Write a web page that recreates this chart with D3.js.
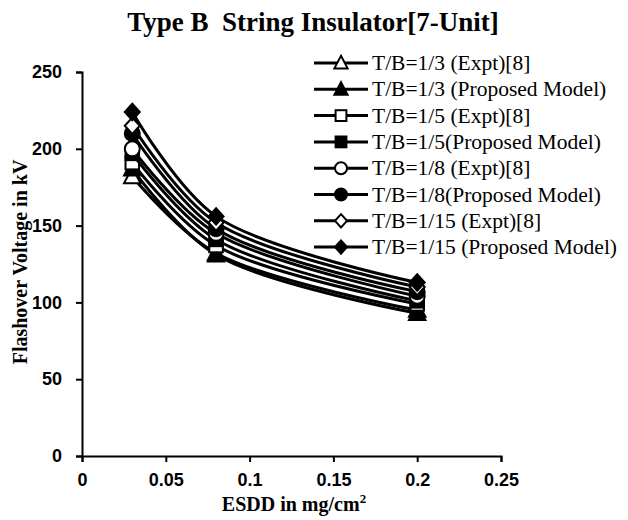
<!DOCTYPE html>
<html><head><meta charset="utf-8">
<script src="https://cdn.jsdelivr.net/npm/d3@7"></script>
<style>body{margin:0;background:#fff}</style>
</head><body>
<svg id="c" width="628" height="520"></svg>
<script>
const xValues = [0.03, 0.08, 0.2];
const seriesNames = [
  "T/B=1/3 (Expt)[8]",
  "T/B=1/3 (Proposed Model)",
  "T/B=1/5 (Expt)[8]",
  "T/B=1/5(Proposed Model)",
  "T/B=1/8 (Expt)[8]",
  "T/B=1/8(Proposed Model)",
  "T/B=1/15 (Expt)[8]",
  "T/B=1/15 (Proposed Model)"
];
const markerShapes = ["triangle","triangle","square","square","circle","circle","diamond","diamond"];
const markerFilled = [false,true,false,true,false,true,false,true];
const tb3Expt = [182, 132, 95];
const tb3Model = [187, 131, 93];
const tb5Expt = [191, 137, 99];
const tb5Model = [197, 141, 101];
const tb8Expt = [200, 145, 104];
const tb8Model = [210, 148, 107];
const tb15Expt = [215, 152, 110];
const tb15Model = [224, 156, 113];
const seriesValues = [tb3Expt, tb3Model, tb5Expt, tb5Model, tb8Expt, tb8Model, tb15Expt, tb15Model];
const xTicks = [0, 0.05, 0.1, 0.15, 0.2, 0.25];
const yTicks = [0, 50, 100, 150, 200, 250];

const svg = d3.select("#c");
const x = d3.scaleLinear().domain([0, 0.25]).range([82, 501]);
const y = d3.scaleLinear().domain([0, 250]).range([456, 72]);

// title
svg.append("text").attr("x", 313).attr("y", 31).attr("text-anchor", "middle")
  .attr("xml:space", "preserve").style("white-space", "pre")
  .style("font-family", "Liberation Serif").style("font-weight", "bold").style("font-size", "27px")
  .text("Type B  String Insulator[7-Unit]");

// axes
const xAxis = svg.append("g").attr("transform", "translate(0,456)")
  .call(d3.axisBottom(x).tickValues(xTicks).tickFormat(d => String(+d.toFixed(2))).tickSizeOuter(0).tickSize(6).tickPadding(11));
const yAxis = svg.append("g").attr("transform", "translate(82,0)")
  .call(d3.axisLeft(y).tickValues(yTicks).tickSizeOuter(0).tickSize(6).tickPadding(14));
[xAxis, yAxis].forEach(g => {
  g.select(".domain").attr("stroke", "#000").attr("stroke-width", 2);
  g.selectAll(".tick line").attr("stroke", "#000").attr("stroke-width", 2);
  g.selectAll(".tick text").style("font-family", "Liberation Sans").style("font-weight", "bold")
    .style("font-size", "18px").attr("fill", "#000");
});

// axis titles
svg.append("text").attr("x", 294).attr("y", 511).attr("text-anchor", "middle")
  .style("font-family", "Liberation Serif").style("font-weight", "bold").style("font-size", "20px")
  .text("ESDD in mg/cm").append("tspan").attr("dy", -8).style("font-size", "13px").text("2");
svg.append("text").attr("transform", "translate(27,262) rotate(-90)").attr("text-anchor", "middle")
  .style("font-family", "Liberation Serif").style("font-weight", "bold").style("font-size", "20px")
  .text("Flashover Voltage in kV");

function drawMarker(g, shape, filled, cx, cy, s) {
  const fill = filled ? "#000" : "#fff";
  let el;
  if (shape === "triangle") {
    el = g.append("path").attr("d", `M${cx},${cy - s * 0.6}L${cx + s * 0.55},${cy + s * 0.45}L${cx - s * 0.55},${cy + s * 0.45}Z`);
  } else if (shape === "square") {
    el = g.append("rect").attr("x", cx - s * 0.45).attr("y", cy - s * 0.45).attr("width", s * 0.9).attr("height", s * 0.9);
  } else if (shape === "circle") {
    el = g.append("circle").attr("cx", cx).attr("cy", cy).attr("r", s * 0.5);
  } else {
    el = g.append("path").attr("d", `M${cx},${cy - s * 0.55}L${cx + s * 0.5},${cy}L${cx},${cy + s * 0.55}L${cx - s * 0.5},${cy}Z`);
  }
  el.attr("fill", fill).attr("stroke", "#000").attr("stroke-width", 2);
}

const line = d3.line().x((d, i) => x(xValues[i])).y(d => y(d)).curve(d3.curveCatmullRom.alpha(0.5));
seriesValues.forEach((vals, k) => {
  const g = svg.append("g");
  g.append("path").datum(vals).attr("d", line).attr("fill", "none").attr("stroke", "#000").attr("stroke-width", 3);
  vals.forEach((v, i) => drawMarker(g, markerShapes[k], markerFilled[k], x(xValues[i]), y(v), 15));
});

// legend
const lg = svg.append("g");
seriesNames.forEach((name, k) => {
  const yy = 63 + k * 26.3;
  lg.append("line").attr("x1", 314).attr("x2", 368).attr("y1", yy).attr("y2", yy).attr("stroke", "#000").attr("stroke-width", 3);
  drawMarker(lg, markerShapes[k], markerFilled[k], 341, yy, 12);
  lg.append("text").attr("x", 372).attr("y", yy + 7)
    .style("font-family", "Liberation Serif").style("font-size", "21.5px").text(name);
});
</script>
</body></html>
